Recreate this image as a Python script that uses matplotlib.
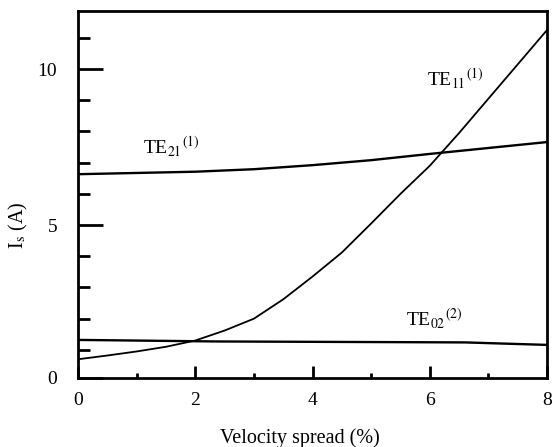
import matplotlib
matplotlib.use('Agg')
import matplotlib.pyplot as plt
from matplotlib.ticker import MultipleLocator

plt.rcParams['font.family'] = ['Liberation Serif', 'DejaVu Serif']
plt.rcParams['mathtext.fontset'] = 'stix'

# Данные
spread = [0, 0.5, 1, 1.5, 2, 2.5, 3, 3.5, 4, 4.5, 5, 5.5, 6, 6.5, 7, 7.5, 8]
te11 = [0.7, 0.82, 0.95, 1.1, 1.3, 1.62, 2.0, 2.62, 3.35, 4.12, 5.05, 6.0, 6.9, 7.95, 9.05, 10.15, 11.25]

spread_21 = [0, 1, 2, 3, 4, 5, 6, 7, 8]
te21 = [6.63, 6.67, 6.71, 6.79, 6.92, 7.08, 7.28, 7.47, 7.66]

spread_02 = [0, 2.4, 6.6, 8]
te02 = [1.32, 1.27, 1.24, 1.16]

fig = plt.figure(figsize=(5.52, 4.47), dpi=100)
ax = fig.add_axes([0.1413, 0.1544, 0.8497, 0.8210])

ax.plot(spread, te11, color='black', linewidth=1.3)
ax.plot(spread_21, te21, color='black', linewidth=1.7)
ax.plot(spread_02, te02, color='black', linewidth=1.7)

ax.set_xlim(0, 8)
ax.set_ylim(0.1, 11.86)

ax.xaxis.set_major_locator(MultipleLocator(2))
ax.xaxis.set_minor_locator(MultipleLocator(1))
ax.yaxis.set_minor_locator(MultipleLocator(1))
ax.set_yticks([0.1, 5, 10])
ax.set_yticklabels(['0', '5', '10'])

ax.tick_params(axis='y', which='major', direction='in', length=18, width=2, pad=15, labelsize=14)
ax.tick_params(axis='y', which='minor', direction='in', length=8.5, width=2)
ax.tick_params(axis='x', which='major', direction='in', length=8.5, width=2, pad=10, labelsize=14)
ax.tick_params(axis='x', which='minor', direction='in', length=3.6, width=2)

for s in ax.spines.values():
    s.set_linewidth(2)

ax.set_xlabel('Velocity spread (%)', fontsize=14.5)
ax.xaxis.set_label_coords(0.473, -0.136)
ax.set_ylabel(r'I$_\mathrm{s}$ (A)', fontsize=14.5)
ax.yaxis.set_label_coords(-0.102, 0.417)

# Подписи мод
ax.text(5.95, 9.45, r'TE$_{11}$$^{(1)}$', fontsize=14)
ax.text(1.11, 7.28, r'TE$_{21}$$^{(1)}$', fontsize=14)
ax.text(5.6, 1.76, r'TE$_{02}$$^{(2)}$', fontsize=14)

plt.savefig('out.png', dpi=100)
